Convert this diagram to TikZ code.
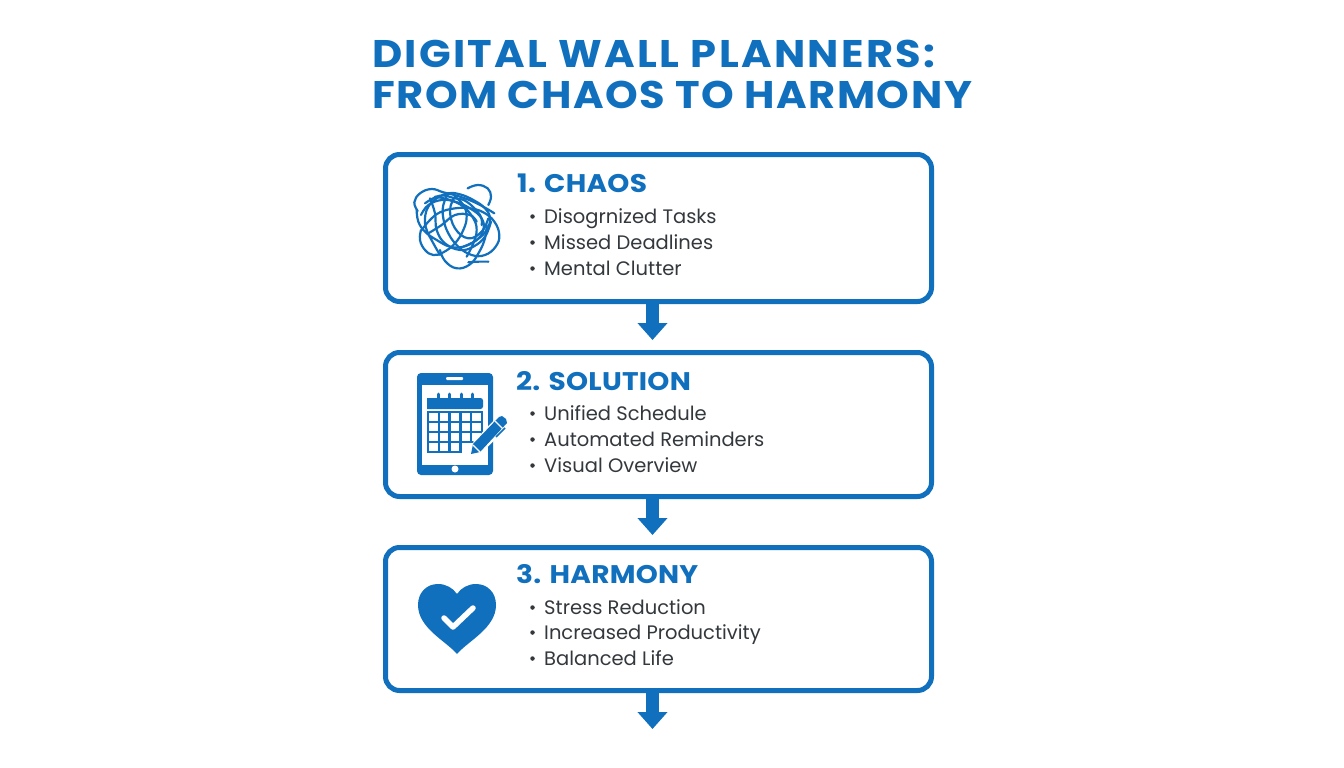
\documentclass[tikz,border=0pt]{standalone}
\usepackage{fontspec}
\setmainfont{Poppins}
\newfontfamily\bannerfont[FakeStretch=1.08,LetterSpace=4]{Poppins}
\newfontfamily\stepfont[FakeStretch=1.1,LetterSpace=1]{Poppins}
\usetikzlibrary{arrows.meta}
\definecolor{plannerblue}{HTML}{1170BD}
\definecolor{bodygrey}{HTML}{33383D}
\newcommand{\fsize}[1]{\fontsize{#1}{#1}\selectfont}
\tikzset{
	stepbox/.style={draw=plannerblue,line width=5pt,rounded corners=14pt,fill=white,minimum width=546pt,inner sep=0pt},
	flowarrow/.style={draw=plannerblue,line width=13pt,-{Triangle[width=29pt,length=17pt]},shorten >=10pt},
	titletext/.style={text=plannerblue,font=\bannerfont\fsize{38.5}\bfseries,anchor=base west,inner sep=0pt},
	headtext/.style={text=plannerblue,font=\stepfont\fsize{25.5}\bfseries,anchor=base west,inner sep=0pt},
	itemtext/.style={text=bodygrey,font=\fsize{19.5},anchor=base west,inner sep=0pt},
	itemdot/.style={circle,fill=bodygrey,minimum size=4.5pt,inner sep=0pt},
	scribble/.style={draw=plannerblue,line width=2.2pt,smooth,tension=0.7,line cap=round}
}
\begin{document}
\begin{tikzpicture}[x=1pt,y=-1pt]
	\useasboundingbox (0,0) rectangle (1344,768);
	\fill[white] (0,0) rectangle (1344,768);
	\node[titletext] (titleA) at (372,67.5) {\addfontfeature{LetterSpace=6}DIGITAL WALL PLANNERS:};
	\node[titletext] (titleB) at (372,108.5) {FROM CHAOS TO HARMONY};
	\node[stepbox,minimum height=147pt] (chaos) at (658.5,228) {};
	\node[stepbox,minimum height=144pt] (solution) at (658.5,424.5) {};
	\node[stepbox,minimum height=143pt] (harmony) at (658.5,619) {};
	\coordinate (exit) at (652.5,739);
	\draw[flowarrow] (chaos.south -| exit) -- (solution.north -| exit);
	\draw[flowarrow] (solution.south -| exit) -- (harmony.north -| exit);
	\draw[flowarrow] (harmony.south -| exit) -- (exit);
	\node[headtext] (chaoshead) at (517,192) {1. CHAOS};
	\node[headtext] (solutionhead) at (516,390) {2. SOLUTION};
	\node[headtext] (harmonyhead) at (516,583) {3. HARMONY};
	\foreach \name/\ypos/\label in {a/223/Disogrnized Tasks,b/249/Missed Deadlines,c/275/Mental Clutter,
		d/420/Unified Schedule,e/446/Automated Reminders,f/472/Visual Overview,
		g/614/Stress Reduction,h/639/Increased Productivity,i/665/Balanced Life}{
		\node[itemtext] (item\name) at (544,\ypos) {\label};
		\node[itemdot] (dot\name) at (532.5,\ypos-6.5) {};
	}
	\begin{scope}[shift={(405,175)},x=0.3333pt,y=-0.3333pt]
		\draw[scribble] plot coordinates {(188,40) (218,30) (248,40) (258,65) (250,90)};
		\draw[scribble] plot coordinates {(38,108) (28,82) (45,55) (80,42) (115,52) (155,62) (200,78) (240,98) (268,115)};
		\draw[scribble] plot coordinates {(35,105) (40,140) (60,170) (95,195) (135,215) (175,215) (215,195) (245,165) (255,130) (240,100) (205,75) (165,58) (130,55) (95,70) (70,95) (60,130) (65,165) (85,205) (105,240)};
		\draw[scribble] plot coordinates {(105,225) (120,258) (155,280) (195,268) (222,232) (240,190) (245,150)};
		\draw[scribble] plot coordinates {(48,165) (45,195) (60,225) (85,240) (115,232) (150,205) (175,165) (185,125) (175,90) (150,65)};
		\draw[scribble] plot coordinates {(130,55) (115,90) (115,130) (130,175) (160,215) (200,240) (240,240) (272,215) (283,180) (268,140) (235,112) (195,100) (150,100) (105,112) (75,135) (50,165)};
		\draw[scribble] plot coordinates {(90,65) (135,75) (175,95) (205,130) (215,165) (205,205) (185,245)};
		\draw[scribble] plot coordinates {(48,120) (70,90) (110,75) (150,80) (195,100) (230,130) (235,165) (215,195) (175,215)};
		\draw[scribble] plot coordinates {(150,65) (135,105) (150,160) (190,190) (230,170) (250,130)};
		\draw[scribble] plot coordinates {(190,262) (220,260) (250,260)};
		\draw[scribble] plot coordinates {(75,70) (90,115) (95,165) (120,205) (165,225) (205,215) (240,185) (258,140)};
		\draw[scribble] plot coordinates {(60,85) (105,62) (150,70) (185,80) (225,120) (230,150)};
		\draw[scribble] plot coordinates {(70,175) (110,150) (150,120) (195,120) (215,140)};
	\end{scope}
	\fill[plannerblue,rounded corners=4pt] (417,373) rectangle (493,475);
	\fill[white] (422,385) rectangle (488,465);
	\fill[white,rounded corners=1pt] (446,377) rectangle (463,380);
	\fill[white] (455,469) circle (3.5);
	\fill[plannerblue,rounded corners=2.5pt] (427,398) -- (483,398) -- (483,409) [sharp corners] -- (427,409) -- cycle;
	\foreach \xpos in {438,449.5,461,472}{
		\draw[plannerblue,line width=3pt,line cap=round] (\xpos,394) -- (\xpos,400);
	}
	\draw[plannerblue,line width=2.4pt] (428,412) rectangle (482,452);
	\foreach \xpos in {438.8,449.6,460.4,471.2}{
		\draw[plannerblue,line width=2.4pt] (\xpos,412) -- (\xpos,452);
	}
	\foreach \ypos in {422,432,442}{
		\draw[plannerblue,line width=2.4pt] (428,\ypos) -- (482,\ypos);
	}
	\fill[white] (461.6,443.2) rectangle (484,454);
	\draw[white,line width=14pt] (478,447) -- (503,421);
	\fill[plannerblue] (471,454) -- (473,444) -- (499,417) -- (502,416) -- (506,419) -- (507,423) -- (480,452) -- cycle;
	\draw[white,line width=1.2pt] (473,445) -- (480,452);
	\draw[white,line width=1.2pt] (495,421) -- (503,429);
	\draw[plannerblue,line width=1.5pt] (496,437) -- (505,428);
	\fill[plannerblue] (457,654) .. controls (446,641) and (418,628) .. (418,605) .. controls (418,592) and (427,584) .. (438,584) .. controls (446,584) and (453,588) .. (457,594) .. controls (461,588) and (468,584) .. (476,584) .. controls (487,584) and (496,592) .. (496,605) .. controls (496,628) and (468,641) .. (457,654) -- cycle;
	\draw[white,line width=5.5pt,line cap=round,line join=round] (444,618) -- (453,627) -- (473,608);
\end{tikzpicture}
\end{document}
